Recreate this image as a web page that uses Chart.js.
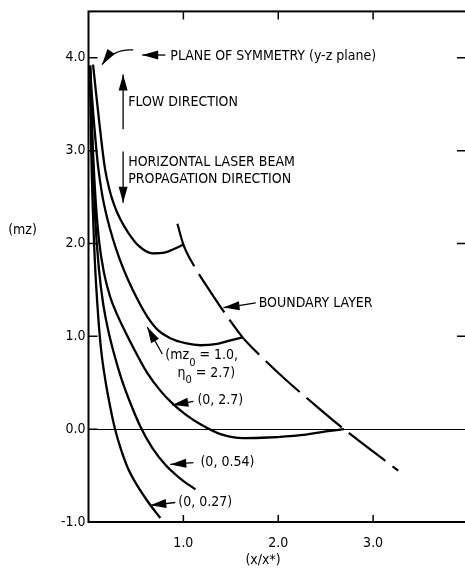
<!DOCTYPE html>
<html>
<head>
<meta charset="utf-8">
<script src="https://cdn.jsdelivr.net/npm/chart.js@4.4.1/dist/chart.umd.min.js"></script>
<style>
  html, body { margin: 0; padding: 0; background: #fff; overflow: hidden; }
  #wrap { width: 472px; height: 571px; }
</style>
</head>
<body>
<div id="wrap"><canvas id="chart" width="472" height="571"></canvas></div>
<script>
// --- Axis ticks ---
const xTickValues = [1, 2, 3];
const xTickLabels = ['1.0', '2.0', '3.0'];
const yTickValues = [-1, 0, 1, 2, 3, 4];
const yTickLabels = ['-1.0', '0.0', '1.0', '2.0', '3.0', '4.0'];

// --- Curves (x/x*, mz) ---
const curveA_x = [0.048, 0.079, 0.111, 0.143, 0.175, 0.217, 0.270, 0.333, 0.418, 0.524, 0.672, 0.810, 0.937, 1.0];
const curveA_y = [3.926, 3.628, 3.330, 3.043, 2.798, 2.596, 2.415, 2.266, 2.117, 1.979, 1.894, 1.904, 1.957, 1.989];

// (mz0 = 1.0, eta0 = 2.7)
const curveB_x = [0.016, 0.037, 0.069, 0.101, 0.143, 0.196, 0.259, 0.333, 0.418, 0.513, 0.619, 0.735, 0.862, 1.021, 1.180, 1.339, 1.497, 1.624];
const curveB_y = [3.915, 3.574, 3.170, 2.830, 2.532, 2.277, 2.043, 1.819, 1.606, 1.404, 1.213, 1.064, 0.979, 0.926, 0.904, 0.915, 0.957, 0.989];

// (0, 2.7)
const curveC_x = [0.016, 0.037, 0.069, 0.111, 0.164, 0.228, 0.302, 0.386, 0.492, 0.619, 0.757, 0.884, 1.021, 1.180, 1.392, 1.635, 1.889, 2.238, 2.524, 2.693];
const curveC_y = [3.915, 3.255, 2.564, 2.032, 1.681, 1.426, 1.234, 1.053, 0.840, 0.606, 0.415, 0.277, 0.160, 0.053, -0.053, -0.096, -0.090, -0.064, -0.021, 0.0];

// (0, 0.54)
const curveD_x = [0.016, 0.037, 0.069, 0.111, 0.153, 0.206, 0.270, 0.344, 0.439, 0.545, 0.672, 0.810, 0.968, 1.127];
const curveD_y = [3.915, 3.149, 2.298, 1.713, 1.362, 1.074, 0.809, 0.553, 0.287, 0.032, -0.202, -0.383, -0.532, -0.649];

// (0, 0.27)
const curveE_x = [0.016, 0.026, 0.048, 0.069, 0.101, 0.132, 0.175, 0.228, 0.280, 0.344, 0.418, 0.513, 0.630, 0.757];
const curveE_y = [3.915, 3.149, 2.298, 1.766, 1.234, 0.862, 0.543, 0.245, 0.0, -0.223, -0.426, -0.606, -0.787, -0.957];

// boundary layer (dashed)
const boundary_x = [0.937, 1.0, 1.127, 1.286, 1.455, 1.624, 1.815, 2.079, 2.344, 2.693, 3.265];
const boundary_y = [2.213, 1.989, 1.734, 1.479, 1.223, 0.989, 0.787, 0.532, 0.298, 0.0, -0.447];

// --- Annotations (positions in data units) ---
const notes = [
    { parts: [{ t: 'PLANE OF SYMMETRY (y-z plane)' }], x: 0.862, y: 4.02 },
    { parts: [{ t: 'FLOW DIRECTION' }], x: 0.418, y: 3.52 },
    { parts: [{ t: 'HORIZONTAL LASER BEAM' }], x: 0.418, y: 2.87 },
    { parts: [{ t: 'PROPAGATION DIRECTION' }], x: 0.418, y: 2.69 },
    { parts: [{ t: 'BOUNDARY LAYER' }], x: 1.794, y: 1.36 },
    { parts: [{ t: '(mz' }, { t: '0', sub: true }, { t: ' = 1.0,' }], x: 0.81, y: 0.79 },
    { parts: [{ t: '\u03B7' }, { t: '0', sub: true }, { t: ' = 2.7)' }], x: 0.937, y: 0.60 },
    { parts: [{ t: '(0, 2.7)' }], x: 1.148, y: 0.31 },
    { parts: [{ t: '(0, 0.54)' }], x: 1.18, y: -0.36 },
    { parts: [{ t: '(0, 0.27)' }], x: 0.947, y: -0.79 }
];

const arrows = [
    { from: [0.810, 4.03], to: [0.566, 4.03] },
    { from: [0.471, 4.085], ctrl: [0.26, 4.10], to: [0.143, 3.926] },
    { from: [0.365, 3.23], to: [0.365, 3.82] },
    { from: [0.365, 2.99], to: [0.365, 2.44] },
    { from: [1.762, 1.36], ctrl: [1.60, 1.33], to: [1.423, 1.31] },
    { from: [0.778, 0.81], to: [0.619, 1.10] },
    { from: [1.106, 0.30], to: [0.884, 0.26] },
    { from: [1.106, -0.36], to: [0.862, -0.38] },
    { from: [0.915, -0.79], to: [0.651, -0.82] }
];

const FONT = "'Liberation Sans Narrow', 'DejaVu Sans Condensed', sans-serif";

function toPoints(xs, ys) {
    return xs.map((x, i) => ({ x: x, y: ys[i] }));
}

function curve(xs, ys, dashed) {
    return {
        data: toPoints(xs, ys),
        showLine: true,
        borderColor: '#000',
        borderWidth: dashed ? 2.2 : 2.3,
        borderDash: dashed ? [46, 9] : [],
        pointRadius: 0,
        cubicInterpolationMode: 'monotone',
        fill: false
    };
}

function drawArrowHead(ctx, x0, y0, x1, y1) {
    const a = Math.atan2(y1 - y0, x1 - x0);
    const len = 16, half = 4.5;
    ctx.beginPath();
    ctx.moveTo(x1, y1);
    ctx.lineTo(x1 - len * Math.cos(a) + half * Math.sin(a), y1 - len * Math.sin(a) - half * Math.cos(a));
    ctx.lineTo(x1 - len * Math.cos(a) - half * Math.sin(a), y1 - len * Math.sin(a) + half * Math.cos(a));
    ctx.closePath();
    ctx.fill();
}

const framePlugin = {
    id: 'frame',
    afterDraw(chart) {
        const ctx = chart.ctx;
        const a = chart.chartArea;
        const xs = chart.scales.x, ys = chart.scales.y;
        ctx.save();
        ctx.strokeStyle = '#000';
        ctx.fillStyle = '#000';

        // frame
        ctx.lineWidth = 2;
        ctx.strokeRect(a.left, a.top, a.right - a.left, a.bottom - a.top);

        // inward ticks
        ctx.lineWidth = 1.5;
        ctx.beginPath();
        yTickValues.forEach(v => {
            const py = ys.getPixelForValue(v);
            ctx.moveTo(a.left, py); ctx.lineTo(a.left + 9, py);
            if (v > 0) { ctx.moveTo(a.right, py); ctx.lineTo(a.right - 11, py); }
        });
        xTickValues.forEach(v => {
            const px = xs.getPixelForValue(v);
            ctx.moveTo(px, a.bottom); ctx.lineTo(px, a.bottom - 7);
            ctx.moveTo(px, a.top); ctx.lineTo(px, a.top + 8);
        });
        ctx.stroke();

        // arrows
        ctx.lineWidth = 1.3;
        arrows.forEach(ar => {
            const x0 = xs.getPixelForValue(ar.from[0]), y0 = ys.getPixelForValue(ar.from[1]);
            const x1 = xs.getPixelForValue(ar.to[0]), y1 = ys.getPixelForValue(ar.to[1]);
            ctx.beginPath();
            ctx.moveTo(x0, y0);
            if (ar.ctrl) {
                const cx = xs.getPixelForValue(ar.ctrl[0]), cy = ys.getPixelForValue(ar.ctrl[1]);
                ctx.quadraticCurveTo(cx, cy, x1, y1);
                ctx.stroke();
                drawArrowHead(ctx, cx, cy, x1, y1);
            } else {
                ctx.lineTo(x1, y1);
                ctx.stroke();
                drawArrowHead(ctx, x0, y0, x1, y1);
            }
        });

        // notes
        ctx.textBaseline = 'middle';
        ctx.textAlign = 'left';
        notes.forEach(n => {
            let px = xs.getPixelForValue(n.x);
            const py = ys.getPixelForValue(n.y);
            n.parts.forEach(p => {
                ctx.font = (p.sub ? '11px ' : '14px ') + FONT;
                ctx.fillText(p.t, px, p.sub ? py + 7 : py);
                px += ctx.measureText(p.t).width;
            });
        });

        // axis titles
        ctx.font = '14px ' + FONT;
        ctx.textAlign = 'center';
        ctx.fillText('(mz)', a.left - 66, ys.getPixelForValue(2.14));
        ctx.fillText('(x/x*)', xs.getPixelForValue(1.84), a.bottom + 38);
        ctx.restore();
    }
};

new Chart(document.getElementById('chart'), {
    type: 'scatter',
    data: {
        datasets: [
            curve(curveA_x, curveA_y),
            curve(curveB_x, curveB_y),
            curve(curveC_x, curveC_y),
            curve(curveD_x, curveD_y),
            curve(curveE_x, curveE_y),
            curve(boundary_x, boundary_y, true)
        ]
    },
    options: {
        responsive: false,
        animation: false,
        layout: { padding: { left: 0, top: 5, right: 4, bottom: 0 } },
        plugins: { legend: { display: false }, tooltip: { enabled: false } },
        scales: {
            x: {
                type: 'linear',
                min: 0,
                max: 4,
                afterFit: scale => { scale.height = 49; },
                afterBuildTicks: scale => { scale.ticks = xTickValues.map(v => ({ value: v })); },
                grid: { display: false },
                border: { display: false },
                ticks: {
                    color: '#000',
                    padding: 5,
                    font: { family: FONT, size: 14 },
                    callback: v => xTickLabels[xTickValues.indexOf(v)]
                }
            },
            y: {
                type: 'linear',
                min: -1,
                max: 4.5,
                afterFit: scale => { scale.width = 88.5; },
                afterBuildTicks: scale => { scale.ticks = yTickValues.map(v => ({ value: v })); },
                grid: {
                    drawTicks: false,
                    lineWidth: 1,
                    color: c => (c.tick && c.tick.value === 0) ? '#000' : 'rgba(0,0,0,0)'
                },
                border: { display: false },
                ticks: {
                    color: '#000',
                    padding: 3,
                    font: { family: FONT, size: 14 },
                    callback: v => yTickLabels[yTickValues.indexOf(v)]
                }
            }
        }
    },
    plugins: [framePlugin]
});
</script>
</body>
</html>
